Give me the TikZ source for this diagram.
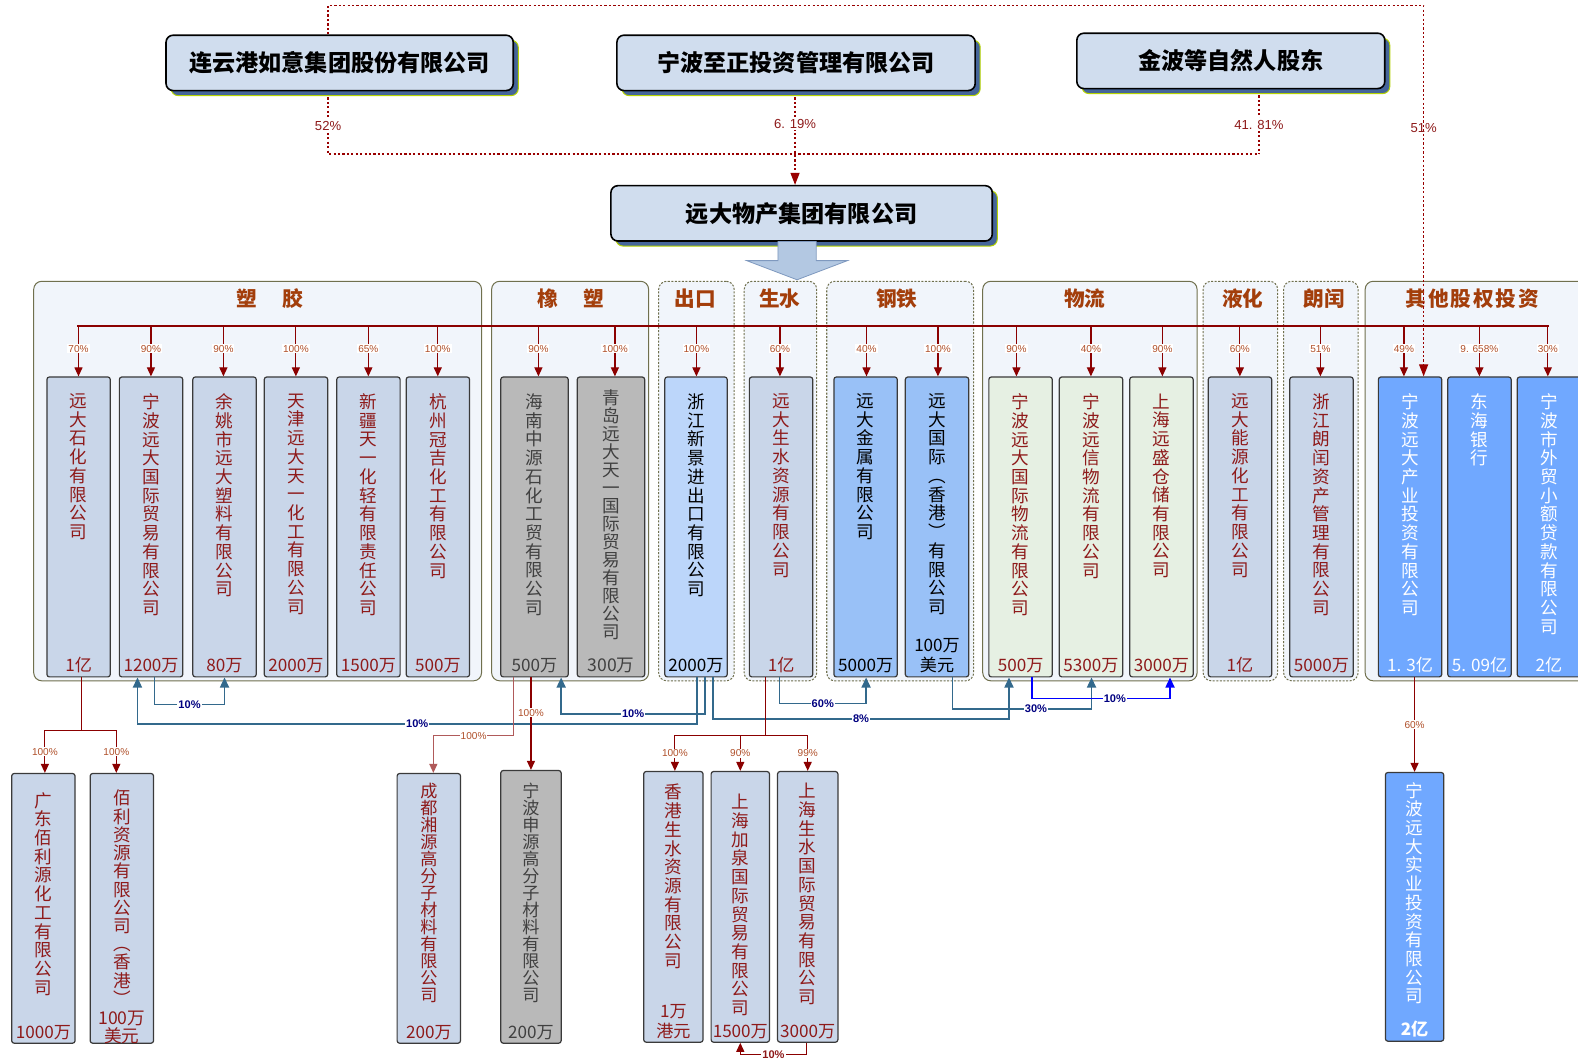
\documentclass[tikz,border=0pt]{standalone}
\usepackage{fontspec}
\setmainfont{Noto Sans CJK SC}
\newfontfamily\lat{Liberation Sans}
\usetikzlibrary{arrows.meta,shadows}
\definecolor{topfill}{HTML}{D0DDEE}
\definecolor{colfill}{HTML}{C9D6E9}
\definecolor{grayfill}{HTML}{B9B9B9}
\definecolor{expfill}{HTML}{BCD6FA}
\definecolor{steelfill}{HTML}{99C1F7}
\definecolor{greenfill}{HTML}{E6F0E3}
\definecolor{invfill}{HTML}{70A8FF}
\definecolor{grpfill}{HTML}{F1F5FB}
\definecolor{grpline}{HTML}{70704E}
\definecolor{conn}{HTML}{33698C}
\definecolor{connlab}{HTML}{000080}
\definecolor{bblue}{HTML}{0000FF}
\definecolor{titlec}{HTML}{A33E0B}
\definecolor{shadowc}{HTML}{45659A}
\definecolor{shadowe}{HTML}{B5D300}
\definecolor{arrowfill}{HTML}{B3C8E2}
\definecolor{arrowline}{HTML}{7F99BF}
\definecolor{dred}{HTML}{8B0000}
\definecolor{lred}{HTML}{B05A5A}
\definecolor{tred}{HTML}{8E1A1A}
\definecolor{pctc}{HTML}{B0502A}
\definecolor{tgray}{HTML}{404040}
\definecolor{boxline}{HTML}{3A3A3A}
\definecolor{dotred}{HTML}{990000}
\makeatletter
\newcommand\vstack[1]{\vbox{\lineskiplimit=-30pt \@tfor\vs@c:=#1\do{\hbox to 20pt{\hss\vs@c\hss}}}}
\makeatother
\newcommand\cbox[9]{%
 \node[colb,#6,anchor=north west,minimum width={#3-#2},minimum height={#5-#4}] (#1) at (#2,#4) {};
 \node[vtext,#7,nx] (#1-n) at ([yshift=-17pt]#1.north) {\vstack{#8}};
 \node[capt,#7,cx] (#1-c) at (#1.south) {#9};
}
\newcommand\grp[6]{%
 \node[grpbox,#4,anchor=north west,minimum width={#3-#2},minimum height=397] (#1) at (#2,279) {};
 \node[grptitle] (#1-t) at (#5,297) {#6};
}
\newcommand\drop[3]{%
 \coordinate (dtmp) at (#1,324);
 \draw[rline,rarr] (dtmp) -- node[pct,pos=0.45]{#2} (dtmp |- #3.north);
}
\tikzset{
 colb/.style={draw=boxline,line width=1.2pt,rounded corners=2.5pt,inner sep=0pt},
 cb/.style={fill=colfill}, gb/.style={fill=grayfill}, eb/.style={fill=expfill},
 sb/.style={fill=steelfill}, gr/.style={fill=greenfill}, ib/.style={fill=invfill},
 tr/.style={text=tred}, tg/.style={text=tgray}, tk/.style={text=black}, tw/.style={text=white},
 vtext/.style={anchor=north,inner sep=0pt,font=\fontsize{17.5}{18.6}\selectfont},
 capt/.style={anchor=south,inner sep=0pt,align=center,yshift=4pt,font=\fontsize{17}{20}\selectfont},
 p179/.style={font=\fontsize{17.5}{17.9}\selectfont},
 p180/.style={font=\fontsize{17.5}{18.1}\selectfont},
 p169/.style={font=\fontsize{17}{16.9}\selectfont},
 nx/.style={}, cx/.style={},
 grpbox/.style={fill=grpfill,draw=grpline,line width=1pt,rounded corners=8pt,inner sep=0pt},
 solidg/.style={}, dashg/.style={dash pattern=on 2pt off 1.5pt},
 grptitle/.style={text=titlec,font=\bfseries\fontsize{20.5}{20.5}\selectfont,inner sep=0pt},
 topbox/.style={draw=black,line width=1.6pt,fill=topfill,rounded corners=7pt,minimum height=55pt,inner sep=0pt,
   font=\bfseries\fontsize{23}{23}\selectfont,
   drop shadow={shadow xshift=5pt,shadow yshift=-5pt,fill=shadowc,draw=shadowe,line width=1pt,opacity=1}},
 rline/.style={draw=dred,line width=1.2pt},
 rarr/.style={-{Triangle[length=9pt,width=8pt]}},
 pct/.style={fill=white,inner sep=1pt,text=pctc,font=\lat\fontsize{10}{10}\selectfont},
 bconn/.style={draw=conn,line width=1.6pt,-{Triangle[length=10pt,width=9pt]}},
 blab/.style={fill=white,inner sep=1pt,text=connlab,font=\lat\bfseries\fontsize{11}{11}\selectfont},
 dline/.style={draw=dotred,line width=1.3pt,dash pattern=on 2.2pt off 2.2pt},
 plab/.style={fill=white,inner sep=2pt,text=tred,font=\lat\fontsize{13}{13}\selectfont},
}
\begin{document}
\begin{tikzpicture}[x=1pt,y=-1pt]
\useasboundingbox (0,0) rectangle (1568,1056);
\fill[white] (0,0) rectangle (1568,1056);
% groups
\grp{gsj}{33}{478}{solidg}{268}{塑\hspace{25pt}胶}
\grp{gxs}{488}{644}{solidg}{567}{橡\hspace{25pt}塑}
\grp{gck}{654}{729}{dashg}{691}{出口}
\grp{gss}{739}{811}{dashg}{775}{生水}
\grp{ggt}{821}{967}{dashg}{891}{钢铁}
\grp{gwl}{976}{1189}{solidg}{1078}{物流}
\grp{gyh}{1195}{1269}{dashg}{1235}{液化}
\grp{glr}{1275}{1349}{dashg}{1316}{朗闰}
\grp{gqt}{1356}{1610}{solidg}{1463}{其\hspace{2pt}他\hspace{2pt}股\hspace{2pt}权\hspace{2pt}投\hspace{2pt}资}
% row 1 boxes
\cbox{ydsh}{46}{109}{374}{672}{cb}{tr}{远大石化有限公司}{1亿}
\cbox{nbgj}{118}{181}{374}{672}{cb}{tr}{宁波远大国际贸易有限公司}{1200万}
\cbox{yysl}{191}{254}{374}{672}{cb}{tr}{余姚市远大塑料有限公司}{80万}
\cbox{tjty}{262}{325}{374}{672}{cb}{tr}{天津远大天一化工有限公司}{2000万}
\cbox{xjty}{334}{397}{374}{672}{cb}{tr}{新疆天一化轻有限责任公司}{1500万}
\cbox{hzgj}{403}{466}{374}{672}{cb}{tr}{杭州冠吉化工有限公司}{500万}
\cbox{hnzy}{497}{564}{374}{672}{gb}{tg}{海南中源石化工贸有限公司}{500万}
\tikzset{nx/.style={yshift=4pt}}
\cbox{qdyd}{573}{640}{374}{672}{gb}{tg,p179}{青岛远大天一国际贸易有限公司}{300万}
\tikzset{nx/.style={}}
\cbox{zjxj}{660}{722}{374}{672}{eb}{tk}{浙江新景进出口有限公司}{2000万}
\cbox{ydss}{744}{807}{374}{672}{cb}{tr}{远大生水资源有限公司}{1亿}
\cbox{ydjs}{828}{891}{374}{672}{sb}{tk}{远大金属有限公司}{5000万}
\cbox{ydgj}{899}{962}{374}{672}{sb}{tk}{远大国际︵香港︶有限公司}{100万\\美元}
\cbox{nbwl}{982}{1045}{374}{672}{gr}{tr}{宁波远大国际物流有限公司}{500万}
\cbox{nbyx}{1052}{1115}{374}{672}{gr}{tr}{宁波远信物流有限公司}{5300万}
\cbox{shys}{1122}{1185}{374}{672}{gr}{tr}{上海远盛仓储有限公司}{3000万}
\cbox{ydny}{1200}{1263}{374}{672}{cb}{tr}{远大能源化工有限公司}{1亿}
\cbox{zjlr}{1281}{1344}{374}{672}{cb}{tr}{浙江朗闰资产管理有限公司}{5000万}
\cbox{nbcy}{1369}{1432}{374}{672}{ib}{tw}{宁波远大产业投资有限公司}{1. 3亿}
\cbox{dhyh}{1438}{1501}{374}{672}{ib}{tw}{东海银行}{5. 09亿}
\cbox{nbwm}{1507}{1570}{374}{672}{ib}{tw}{宁波市外贸小额贷款有限公司}{2亿}
% row 2 boxes
\tikzset{nx/.style={yshift=-2pt}}
\cbox{gdbl}{11}{74}{768}{1036}{cb}{tr}{广东佰利源化工有限公司}{1000万}
\tikzset{nx/.style={}, cx/.style={yshift=-4pt}}
\cbox{blzy}{89}{152}{768}{1036}{cb}{tr,p180}{佰利资源有限公司︵香港︶}{100万\\美元}
\tikzset{nx/.style={yshift=7pt}, cx/.style={}}
\cbox{cdxy}{394}{457}{768}{1036}{cb}{tr,p169}{成都湘源高分子材料有限公司}{200万}
\tikzset{nx/.style={yshift=4pt}}
\cbox{nbsy}{497}{557}{765}{1036}{gb}{tg,p169}{宁波申源高分子材料有限公司}{200万}
\cbox{hkss}{639}{698}{766}{1035}{cb}{tr}{香港生水资源有限公司}{1万\\港元}
\tikzset{nx/.style={yshift=-6pt}}
\cbox{shjq}{706}{764}{766}{1035}{cb}{tr}{上海加泉国际贸易有限公司}{1500万}
\tikzset{nx/.style={yshift=5pt}}
\cbox{shss}{772}{832}{766}{1035}{cb}{tr}{上海生水国际贸易有限公司}{3000万}
\tikzset{nx/.style={yshift=7pt}}
\cbox{nbsd}{1376}{1434}{767}{1034}{ib}{tw}{宁波远大实业投资有限公司}{\bfseries 2亿}
\tikzset{nx/.style={}}
% distribution bus
\draw[rline,line width=1.8pt] (77,324) coordinate (busL) -- (1539,324) coordinate (busR);
\drop{78}{70\%}{ydsh}
\drop{150}{90\%}{nbgj}
\drop{222}{90\%}{yysl}
\drop{294}{100\%}{tjty}
\drop{366}{65\%}{xjty}
\drop{435}{100\%}{hzgj}
\drop{535}{90\%}{hnzy}
\drop{611}{100\%}{qdyd}
\drop{692}{100\%}{zjxj}
\drop{775}{60\%}{ydss}
\drop{861}{40\%}{ydjs}
\drop{932}{100\%}{ydgj}
\drop{1010}{90\%}{nbwl}
\drop{1084}{40\%}{nbyx}
\drop{1155}{90\%}{shys}
\drop{1232}{60\%}{ydny}
\drop{1312}{51\%}{zjlr}
\drop{1395}{49\%}{nbcy}
\drop{1470}{9. 658\%}{dhyh}
\drop{1538}{30\%}{nbwm}
% blue cross holdings
\draw[bconn] ([xshift=3.5pt]nbgj.south) -- ++(0,27) -| node[blab,pos=0.25]{10\%} (yysl.south);
\draw[bconn] ([xshift=1pt]zjxj.south) -- ++(0,46) -| node[blab,pos=0.25]{10\%} ([xshift=-13.5pt]nbgj.south);
\draw[bconn] ([xshift=9pt]zjxj.south) -- ++(0,36) -| node[blab,pos=0.25]{10\%} ([xshift=26.5pt]hnzy.south);
\draw[bconn] ([xshift=17pt]zjxj.south) -- ++(0,41) -| node[blab,pos=0.25]{8\%} ([xshift=-11.5pt]nbwl.south);
\draw[bconn] ([xshift=-1.5pt]ydss.south) -- ++(0,26) -| node[blab,pos=0.25]{60\%} ([xshift=0.5pt]ydjs.south);
\draw[bconn] ([xshift=15.5pt]ydgj.south) -- ++(0,31) -| node[blab,pos=0.3]{30\%} ([xshift=0.5pt]nbyx.south);
\draw[bconn,draw=bblue] ([xshift=11.5pt]nbwl.south) -- ++(0,21) -| node[blab,pos=0.3]{10\%} ([xshift=8.5pt]shys.south);
% red subsidiaries
\draw[rline] ([xshift=2.5pt]ydsh.south) -- ++(0,53) coordinate (s1);
\draw[rline,rarr] (s1) -| node[pct,pos=0.75]{100\%} ([xshift=1.5pt]gdbl.north);
\draw[rline,rarr] (s1) -| node[pct,pos=0.75]{100\%} ([xshift=-5.5pt]blzy.north);
\draw[rline,draw=lred,rarr] ([xshift=-20.5pt]hnzy.south) -- ++(0,58) -| node[pct,pos=0.25]{100\%} ([xshift=4.5pt]cdxy.north);
\draw[rline,rarr] ([xshift=-3.5pt]hnzy.south) -- node[pct,pos=0.38]{100\%} (nbsy.north);
\draw[rline] ([xshift=-15.5pt]ydss.south) -- ++(0,58) coordinate (s3);
\draw[rline,rarr] (s3) -| node[pct,pos=0.75]{100\%} ([xshift=1.5pt]hkss.north);
\draw[rline,rarr] (s3) -| node[pct,pos=0.75]{90\%} (shjq.north);
\draw[rline,rarr] (s3) -| node[pct,pos=0.75]{99\%} (shss.north);
\draw[rline,rarr] ([xshift=-1pt]shss.south) -- ++(0,12) -| node[fill=white,inner sep=1pt,text=tred,font=\lat\bfseries\fontsize{11}{11}\selectfont,pos=0.25]{10\%} (shjq.south);
\draw[rline,rarr] (nbsd.north |- nbcy.south) -- node[pct]{60\%} (nbsd.north);
% top shareholders
\node[topbox,minimum width=345pt] (A) at (337.5,62.5) {连云港如意集团股份有限公司};
\node[topbox,minimum width=356pt] (B) at (791,62.5) {宁波至正投资管理有限公司};
\node[topbox,minimum width=306pt] (C) at (1223,60.5) {金波等自然人股东};
\node[topbox,minimum width=379pt] (D) at (796.5,212) {远大物产集团有限公司};
\coordinate (jA) at (326,153);
\coordinate (jC) at (1251,153);
\draw[dline] ([xshift=-11.5pt,yshift=-6pt]A.south) -- node[plab]{52\%} (jA) -- (jC);
\draw[dline] ([xshift=28pt,yshift=-6pt]C.south) -- node[plab]{41. 81\%} (jC);
\draw[dline,-{Triangle[length=12pt,width=9pt]}] ([xshift=-1pt,yshift=-6pt]B.south) -- node[plab,pos=0.3]{6. 19\%} ([xshift=-6.5pt]D.north);
\draw[dline,-{Triangle[length=12pt,width=9pt]}] ([xshift=-11.5pt]A.north) -- ++(0,-29) -| node[plab,fill=none,pos=0.665]{51\%} ([xshift=13.5pt]nbcy.north);
% block arrow
\filldraw[fill=arrowfill,draw=arrowline,line width=0.8pt] (773,240) -- (773,259) -- (742,259) -- (792,278) -- (842,259) -- (811,259) -- (811,240) -- cycle;
\end{tikzpicture}
\end{document}
